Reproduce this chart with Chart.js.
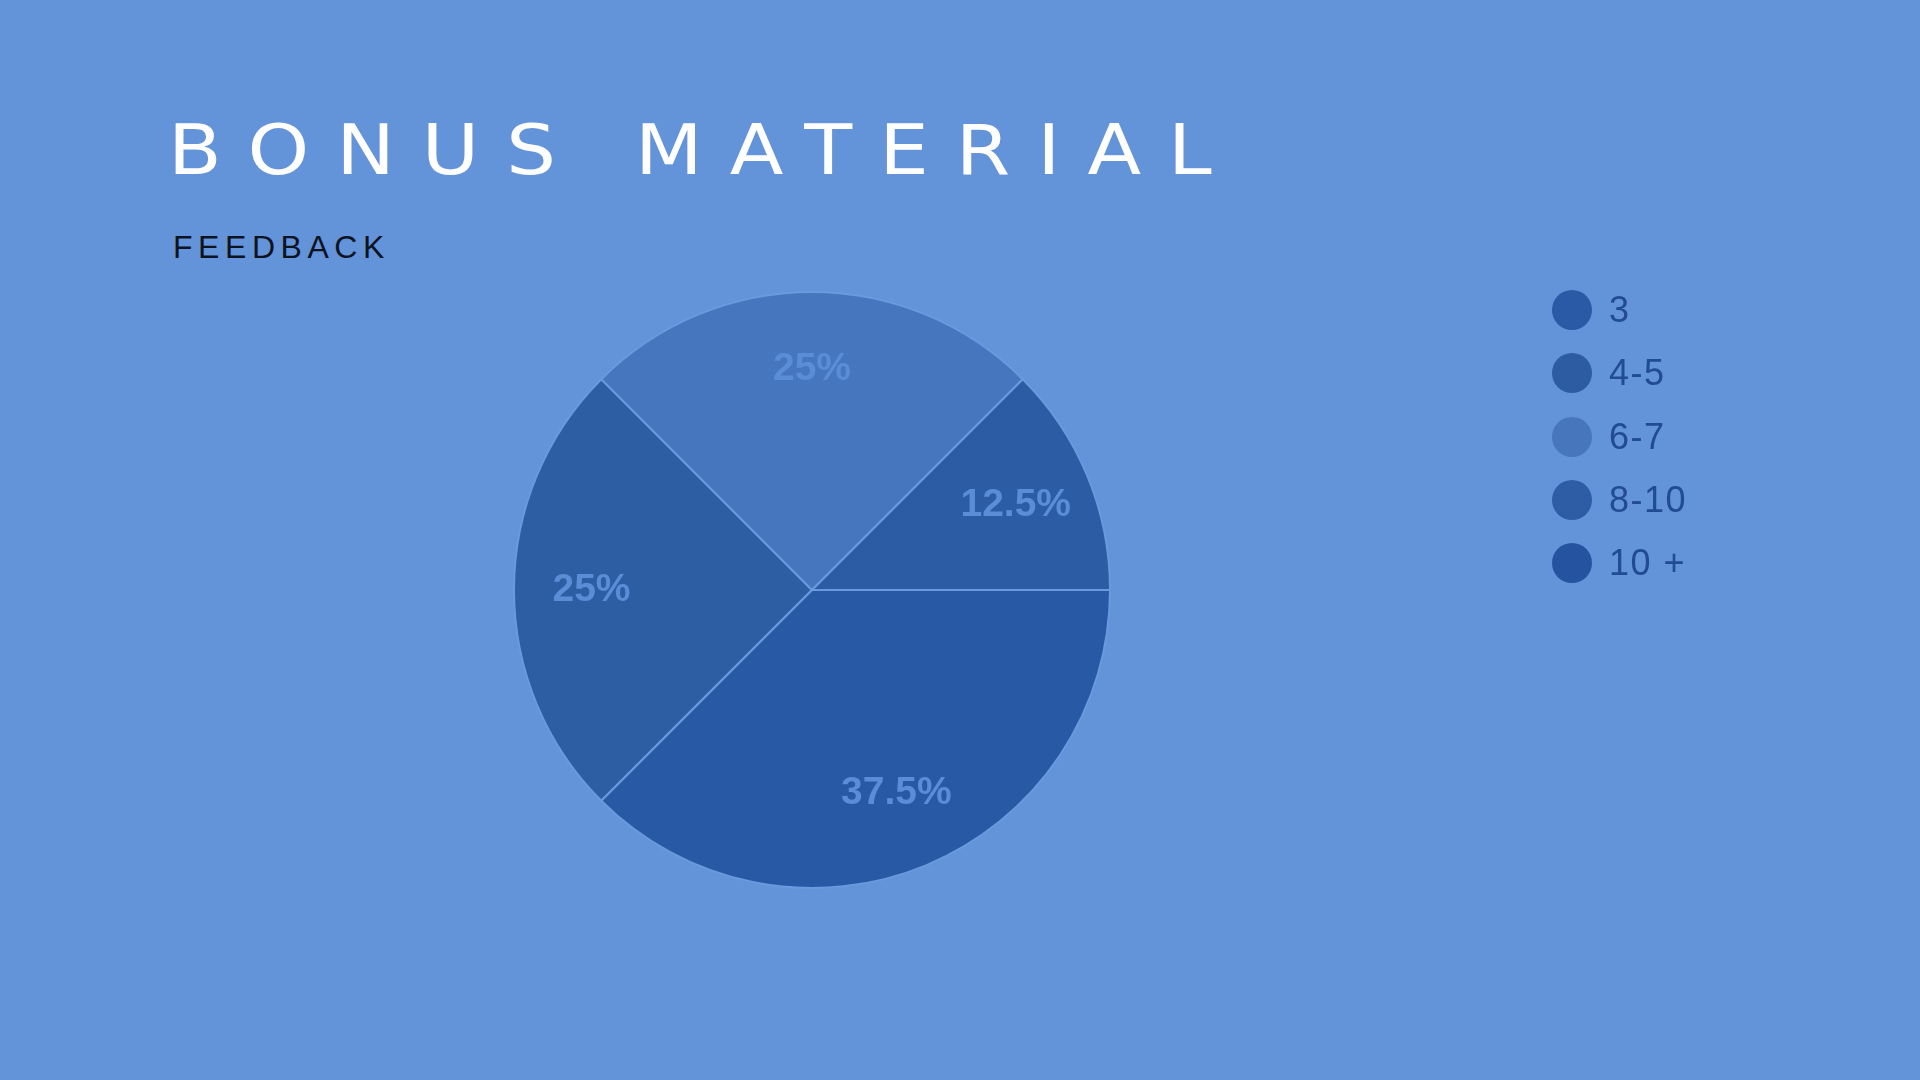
<!DOCTYPE html>
<html>
<head>
<meta charset="utf-8">
<script src="https://cdn.jsdelivr.net/npm/chart.js@4"></script>
<style>
  html, body { margin:0; padding:0; width:1920px; height:1080px; background:#6393d9; overflow:hidden; }
  #title { position:absolute; left:175px; top:115px; font-family:"DejaVu Sans", sans-serif; font-size:70px; color:#ffffff; white-space:nowrap; line-height:1; transform-origin:0 0; }
  #subtitle { position:absolute; left:174px; top:231px; font-family:"Liberation Sans", Arial, sans-serif; font-size:32px; color:#0d1320; white-space:nowrap; line-height:1; transform-origin:0 0; }
  #wrap { position:absolute; left:0; top:0; width:1920px; height:1080px; }
  #legend { position:absolute; left:1552px; top:290px; font-family:"Liberation Sans", Arial, sans-serif; }
  .li { position:absolute; left:0; height:40px; display:flex; align-items:center; white-space:nowrap; }
  .dot { width:40px; height:40px; border-radius:50%; margin-right:17px; flex:none; }
  .lt { font-size:36px; letter-spacing:1.5px; color:#214c94; }
</style>
</head>
<body>
<div id="title">BONUS MATERIAL</div>
<div id="subtitle">FEEDBACK</div>
<div id="wrap"><canvas id="c" width="1920" height="1080"></canvas></div>
<div id="legend"></div>
<script>
const categories = ["3", "4-5", "6-7", "8-10", "10 +"];
const responses = [0, 2, 2, 1, 3];
const sliceColors = ["#2a5aa5", "#2d5da3", "#4676bd", "#2b5ca4", "#2759a5"];
const legendColors = ["#2a5aa5", "#2e5ca3", "#4776bd", "#2e5da5", "#2553a0"];

function fitInk(el, inkLeft, inkWidth, scale) {
  const cs = getComputedStyle(el);
  const m = document.createElement("canvas").getContext("2d");
  m.font = cs.fontSize + " " + cs.fontFamily;
  const t = el.textContent;
  const full = m.measureText(t);
  const ink = full.actualBoundingBoxLeft + full.actualBoundingBoxRight;
  const sp = (inkWidth / scale - ink) / (t.length - 1);
  el.style.letterSpacing = sp + "px";
  el.style.transform = "scaleX(" + scale + ")";
  el.style.left = (inkLeft + scale * full.actualBoundingBoxLeft) + "px";
}
fitInk(document.getElementById("title"), 175, 1037, 1.12);
fitInk(document.getElementById("subtitle"), 175, 209, 1);

const legend = document.getElementById("legend");
categories.forEach((c, i) => {
  const d = document.createElement("div");
  d.className = "li";
  d.style.top = (i * 63.3) + "px";
  d.innerHTML = '<span class="dot" style="background:' + legendColors[i] + '"></span><span class="lt">' + c + '</span>';
  legend.appendChild(d);
});

const total = responses.reduce((a, b) => a + b, 0);
const labelPlugin = {
  id: "sliceLabels",
  afterDatasetsDraw(chart) {
    const ctx = chart.ctx;
    const meta = chart.getDatasetMeta(0);
    ctx.save();
    ctx.font = "bold 39px 'Liberation Sans', Arial, sans-serif";
    ctx.fillStyle = "#5b8cd6";
    ctx.textAlign = "center";
    ctx.textBaseline = "middle";
    meta.data.forEach((arc, i) => {
      const v = responses[i];
      if (!v) return;
      const p = arc.getProps(["x", "y", "startAngle", "endAngle", "outerRadius"], true);
      const mid = (p.startAngle + p.endAngle) / 2;
      const r = p.outerRadius * 0.74;
      const pct = (v / total * 100);
      const txt = (Math.round(pct * 10) / 10) + "%";
      ctx.fillText(txt, p.x + Math.cos(mid) * r, p.y + Math.sin(mid) * r);
    });
    ctx.restore();
  }
};

new Chart(document.getElementById("c"), {
  type: "pie",
  data: {
    labels: categories,
    datasets: [{
      data: responses,
      backgroundColor: sliceColors,
      borderColor: "#6a99dd",
      borderWidth: 2
    }]
  },
  options: {
    responsive: false,
    animation: false,
    rotation: 225,
    radius: 298,
    layout: { padding: { left: 514, right: 810, top: 292, bottom: 192 } },
    plugins: { legend: { display: false }, tooltip: { enabled: false } }
  },
  plugins: [labelPlugin]
});
</script>
</body>
</html>
